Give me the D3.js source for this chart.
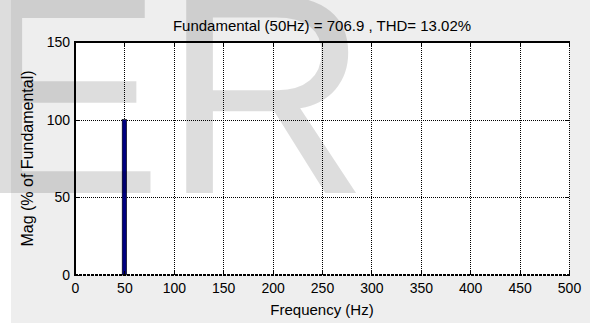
<!DOCTYPE html>
<html>
<head>
<meta charset="utf-8">
<script src="https://cdn.jsdelivr.net/npm/d3@7"></script>
<style>
  html, body { margin: 0; padding: 0; background: #ffffff; }
  svg { display: block; }
  text { font-family: "Liberation Sans", Arial, Helvetica, sans-serif; fill: #000; }
</style>
</head>
<body>
<svg id="chart" width="590" height="324"></svg>
<script>
// Harmonic spectrum: frequency (Hz) and magnitude (% of fundamental)
const harmonicFreq = [50];
const harmonicMag = [100];

const xTicks = [0, 50, 100, 150, 200, 250, 300, 350, 400, 450, 500];
const yTicks = [0, 50, 100, 150];
const xDomain = [0, 500];
const yDomain = [0, 150];

const titleText = "Fundamental (50Hz) = 706.9 , THD= 13.02%";
const xLabelText = "Frequency (Hz)";
const yLabelText = "Mag (% of Fundamental)";
const watermarkText = "ER";

const svg = d3.select("#chart");
const W = 590, H = 324;
const plot = { left: 75, top: 42, right: 569, bottom: 275 };

// figure background
svg.append("rect").attr("x", 11).attr("y", 0).attr("width", W - 11).attr("height", 323)
  .attr("fill", "#eeeeee");

const x = d3.scaleLinear().domain(xDomain).range([plot.left, plot.right]);
const y = d3.scaleLinear().domain(yDomain).range([plot.bottom, plot.top]);

// axes area
svg.append("rect")
  .attr("x", plot.left).attr("y", plot.top)
  .attr("width", plot.right - plot.left).attr("height", plot.bottom - plot.top)
  .attr("fill", "#ffffff");

// dotted grid
const grid = svg.append("g").attr("stroke", "#000").attr("stroke-width", 1)
  .attr("stroke-dasharray", "1,1").attr("shape-rendering", "crispEdges");
grid.selectAll("line.gx").data(xTicks).join("line").attr("class", "gx")
  .attr("x1", d => Math.round(x(d)) + 0.5).attr("x2", d => Math.round(x(d)) + 0.5)
  .attr("y1", plot.top).attr("y2", plot.bottom);
grid.selectAll("line.gy").data(yTicks).join("line").attr("class", "gy")
  .attr("y1", d => Math.round(y(d)) + 0.5).attr("y2", d => Math.round(y(d)) + 0.5)
  .attr("x1", plot.left).attr("x2", plot.right);

// bars
const barWidthHz = 4.5;
svg.append("g").selectAll("rect").data(harmonicFreq.map((f, i) => ({ f, m: harmonicMag[i] })))
  .join("rect")
  .attr("x", d => x(d.f - barWidthHz / 2))
  .attr("width", d => x(d.f + barWidthHz / 2) - x(d.f - barWidthHz / 2))
  .attr("y", d => y(d.m))
  .attr("height", d => y(0) - y(d.m))
  .attr("fill", "#00007f").attr("stroke", "#000").attr("stroke-width", 0.6);

// axes using d3 axis generators, ticks pointing inward
const axisLeft = d3.axisLeft(y).tickValues(yTicks).tickSize(0).tickPadding(5);
const gL = svg.append("g").attr("transform", `translate(${plot.left},0)`).call(axisLeft);
gL.select(".domain").remove();
gL.selectAll("text").attr("font-size", 14).attr("font-family", "Liberation Sans, Arial, sans-serif").attr("fill", "#000");

const axisBottom = d3.axisBottom(x).tickValues(xTicks).tickSize(0).tickPadding(8);
const gB = svg.append("g").attr("transform", `translate(0,${plot.bottom})`).call(axisBottom);
gB.select(".domain").remove();
gB.selectAll("text").attr("font-size", 14).attr("font-family", "Liberation Sans, Arial, sans-serif").attr("fill", "#000");

// inward tick marks
const tk = svg.append("g").attr("stroke", "#000").attr("stroke-width", 1).attr("shape-rendering", "crispEdges");
yTicks.forEach(v => {
  const yy = Math.round(y(v)) + 0.5;
  tk.append("line").attr("x1", plot.left).attr("x2", plot.left + 4).attr("y1", yy).attr("y2", yy);
  tk.append("line").attr("x1", plot.right - 4).attr("x2", plot.right).attr("y1", yy).attr("y2", yy);
});
xTicks.forEach(v => {
  const xx = Math.round(x(v)) + 0.5;
  tk.append("line").attr("x1", xx).attr("x2", xx).attr("y1", plot.top).attr("y2", plot.top + 4);
  tk.append("line").attr("x1", xx).attr("x2", xx).attr("y1", plot.bottom - 4).attr("y2", plot.bottom);
});

// box: solid top and left, dashed baseline
svg.append("line").attr("x1", plot.left).attr("x2", plot.right + 1).attr("y1", plot.top).attr("y2", plot.top)
  .attr("stroke", "#000").attr("stroke-width", 2);
svg.append("line").attr("x1", plot.left).attr("x2", plot.left).attr("y1", plot.top - 1).attr("y2", plot.bottom + 1)
  .attr("stroke", "#000").attr("stroke-width", 2);
svg.append("line").attr("x1", plot.left).attr("x2", plot.right + 1).attr("y1", plot.bottom).attr("y2", plot.bottom)
  .attr("stroke", "#000").attr("stroke-width", 2).attr("stroke-dasharray", "3,1");

// title and labels
svg.append("text").attr("x", (plot.left + plot.right) / 2).attr("y", 31)
  .attr("text-anchor", "middle").attr("font-size", 15).text(titleText);
svg.append("text").attr("x", (plot.left + plot.right) / 2).attr("y", 315)
  .attr("text-anchor", "middle").attr("font-size", 15).text(xLabelText);
svg.append("text").attr("transform", `translate(33,${(plot.top + plot.bottom) / 2}) rotate(-90)`)
  .attr("text-anchor", "middle").attr("font-size", 16).text(yLabelText);

// translucent watermark letters over everything
svg.append("text").attr("x", -28).attr("y", 193)
  .attr("font-size", 286).attr("font-family", "Liberation Sans, Arial, sans-serif")
  .style("fill", "rgba(0,0,0,0.135)").text(watermarkText);
</script>
</body>
</html>
